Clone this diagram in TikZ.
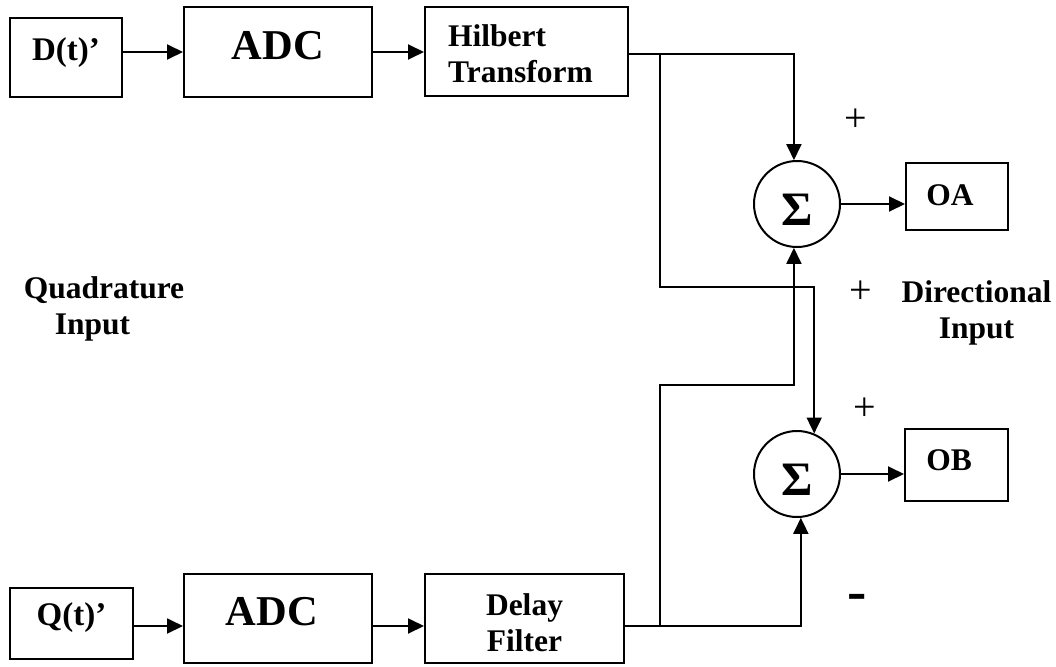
\documentclass[tikz,border=0pt]{standalone}
\usepackage{fontspec}
\setmainfont{Liberation Serif}
\usetikzlibrary{arrows.meta}
\newcommand\setht[3]{\raisebox{0pt}[#1][#2]{#3}}
\newcommand\fXL{\fontsize{42.5}{50}\selectfont\bfseries}
\newcommand\fL{\fontsize{33}{39}\selectfont\bfseries}
\newcommand\fM{\fontsize{31.5}{36}\selectfont\bfseries}
\newcommand\fSig{\fontsize{48}{56}\selectfont\bfseries}
\tikzset{
  blk/.style={draw, rectangle, line width=2pt, inner sep=0pt},
  sumnode/.style={draw, circle, line width=2pt, minimum size=86pt, inner sep=0pt, font=\fSig},
  wire/.style={line width=1.9pt},
  arr/.style={wire, -{Triangle[length=16pt,width=15pt]}},
  sign/.style={font=\fontsize{40}{46}\selectfont, inner sep=0pt},
  lbl/.style={font=\fM, anchor=base, inner sep=0pt},
}
\begin{document}
\begin{tikzpicture}[x=1pt,y=-1pt]
\fill[white] (0,0) rectangle (1056,666);
\useasboundingbox (0,0) rectangle (1056,666);

% blocks
\node[blk, minimum width=112pt, minimum height=79pt, font=\fL] (D) at (66,57.5) {\setht{7pt}{0pt}{D(t)’}};
\node[blk, minimum width=188pt, minimum height=90pt, font=\fXL] (ADC1) at (278,52) {\setht{16pt}{0pt}{ADC}};
\node[blk, minimum width=203pt, minimum height=89pt, font=\fM] (HT) at (526.5,51.5)
  {\setht{0pt}{9pt}{\begin{tabular}[t]{@{}l@{}}Hilbert\\Transform\end{tabular}\hspace*{12pt}}};
\node[blk, minimum width=123pt, minimum height=71pt, font=\fL] (Q) at (71.5,623.5) {\setht{3pt}{0pt}{Q(t)’}};
\node[blk, minimum width=188pt, minimum height=89pt, font=\fXL] (ADC2) at (278,618.5) {\setht{13pt}{0pt}{ADC\hspace*{12pt}}};
\node[blk, minimum width=199pt, minimum height=89pt, font=\fM] (DF) at (524.5,618.5)
  {\setht{0pt}{7pt}{\begin{tabular}[t]{@{}c@{}}Delay\\Filter\end{tabular}}};
\node[sumnode] (SA) at (797,204) {\setht{42pt}{0pt}{Σ}};
\node[sumnode] (SB) at (797,474) {\setht{42pt}{0pt}{Σ}};
\node[blk, minimum width=102pt, minimum height=67pt, font=\fM] (OA) at (957,196.5) {\setht{17pt}{0pt}{OA\hspace*{14pt}}};
\node[blk, minimum width=103pt, minimum height=72pt, font=\fM] (OB) at (956.5,465) {\setht{10pt}{0pt}{OB\hspace*{15pt}}};

% side labels
\node[lbl] (QI) at (104,298) {\begin{tabular}[t]{@{}c@{}}Quadrature\\Input\hspace*{23pt}\end{tabular}};
\node[lbl] (DI) at (976.5,302) {\begin{tabular}[t]{@{}c@{}}Directional\\Input\end{tabular}};

% signs
\node[sign] (p1) at (856,120) {+};
\node[sign] (p2) at (861,292) {+};
\node[sign] (p3) at (865,409) {+};
\node[font=\fontsize{58}{64}\selectfont\bfseries, inner sep=0pt] (m1) at (857,602) {-};

% helper coordinates
\coordinate (yT) at (0,54);
\coordinate (yB) at (0,626);
\coordinate (j1) at (660,54);
\coordinate (j2) at (660,626);
\coordinate (c1) at (660,287);
\coordinate (c2) at (660,385);

% connectors
\draw[arr] (D.east |- ADC1.west) -- (ADC1.west);
\draw[arr] (ADC1.east) -- (ADC1.east -| HT.west);
\draw[arr] (Q.east |- yB) -- (ADC2.west |- yB);
\draw[arr] (ADC2.east |- yB) -- (DF.west |- yB);
\draw[arr] (HT.east |- yT) -- (SA.94 |- yT) -- (SA.94);
\draw[arr] (j1) -- (c1) -- (SB.67 |- c1) -- (SB.67);
\draw[arr] (DF.east |- yB) -- (SB.275 |- yB) -- (SB.275);
\draw[arr] (j2) -- (c2) -- (SA.266 |- c2) -- (SA.266);
\draw[arr] (SA.east) -- (OA.west |- SA.east);
\draw[arr] (SB.east) -- (OB.west |- SB.east);
\end{tikzpicture}
\end{document}
